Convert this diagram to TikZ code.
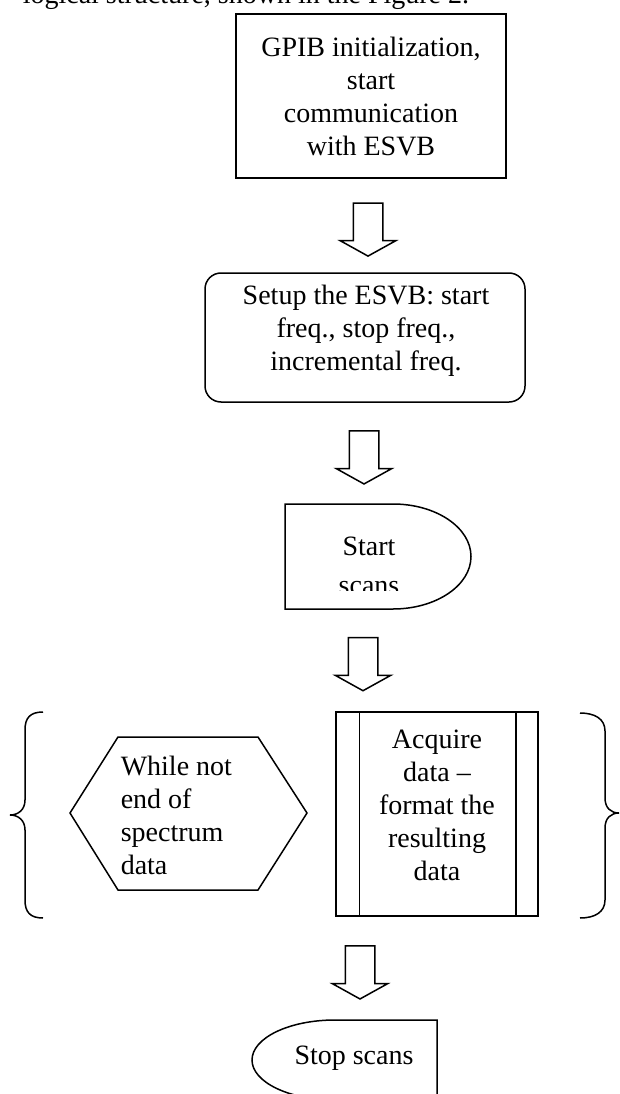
\documentclass[tikz,border=0pt]{standalone}
\usepackage{fontspec}
\setmainfont{Liberation Serif}
\usetikzlibrary{shapes,shapes.arrows,positioning}

\begin{document}
\begin{tikzpicture}[x=1pt, y=-1pt, line width=1.5pt,
  font=\fontsize{28}{33}\selectfont,
  box/.style={rectangle, draw, minimum width=270pt, minimum height=164pt, align=center},
  roundbox/.style={rectangle, draw, rounded corners=16pt, minimum width=320pt, minimum height=129pt},
  procbox/.style={rectangle, draw, minimum width=202pt, minimum height=204pt},
  txt/.style={inner sep=0pt, align=center},
  blockarr/.style={single arrow, draw, rotate=-90, inner xsep=0pt, inner ysep=14pt,
    minimum height=53pt, single arrow head extend=13pt, single arrow tip angle=122}]
  \useasboundingbox (0,0) rectangle (620,1094);
  \clip (0,0) rectangle (620,1094);
  \node [anchor=base west, inner sep=0pt] (lead) at (22,4) {logical structure, shown in the Figure 2.};

  \node [box] (gpib) at (371,96) {GPIB initialization,\\start\\communication\\with ESVB};
  \node [roundbox] (setup) at (365,337.5) {};
  \node [txt] (setuptxt) at (366,331) {Setup the ESVB: start\\freq., stop freq.,\\incremental freq.};

  \draw (285,504) -- (393,504) .. controls (436,504) and (471,527.5) .. (471,556.5)
    .. controls (471,585.5) and (436,609) .. (393,609) -- (285,609) -- cycle;
  \coordinate (scantop) at (363,504);
  \coordinate (scanbot) at (363,609);
  \begin{scope}
    \clip (285,504) rectangle (471,590.5);
    \node [txt, anchor=north] (scanstxt) at (369,536) {Start\\[6pt]scans};
  \end{scope}

  \draw (70,813) -- (118,737) -- (258,737) -- (307,813) -- (258,890) -- (118,890) -- cycle;
  \node [txt, align=left, anchor=west] (whiletxt) at (120,815) {While not\\end of\\spectrum\\data};

  \node [procbox] (acquire) at (437,814) {};
  \draw ([xshift=24pt]acquire.north west) -- ([xshift=24pt]acquire.south west);
  \draw ([xshift=-23pt]acquire.north east) -- ([xshift=-23pt]acquire.south east);
  \node [txt] (acqtxt) at (437,805.5) {Acquire\\data –\\format the\\resulting\\data};

  \draw (43,712) .. controls (30,712) and (25,718) .. (25,730) -- (25,800)
    .. controls (25,810) and (18,815) .. (10,815) .. controls (18,815) and (25,820) .. (25,830)
    -- (25,900) .. controls (25,912) and (30,918) .. (43,918);
  \draw (580,713) .. controls (595,713) and (605,719) .. (605,731) -- (605,798)
    .. controls (605,808) and (611,813) .. (619,813) .. controls (611,813) and (605,818) .. (605,828)
    -- (605,900) .. controls (605,912) and (595,918) .. (580,918);

  \draw (437,1110) -- (437,1020) -- (335,1020) .. controls (289,1020) and (252,1038) .. (252,1060)
    .. controls (252,1082) and (289,1100) .. (335,1100) -- (437,1100);
  \coordinate (stoptop) at (360,1020);
  \node [txt] (stoptxt) at (354,1058.5) {Stop scans};

  \path (gpib.south) -- node [blockarr] (arr1) {} (setup.north);
  \path (setup.south) -- node [blockarr] (arr2) {} (scantop);
  \path (scanbot) -- node [blockarr] (arr3) {} (scanbot |- acquire.north);
  \path (stoptop |- acquire.south) -- node [blockarr] (arr4) {} (stoptop);
\end{tikzpicture}
\end{document}
